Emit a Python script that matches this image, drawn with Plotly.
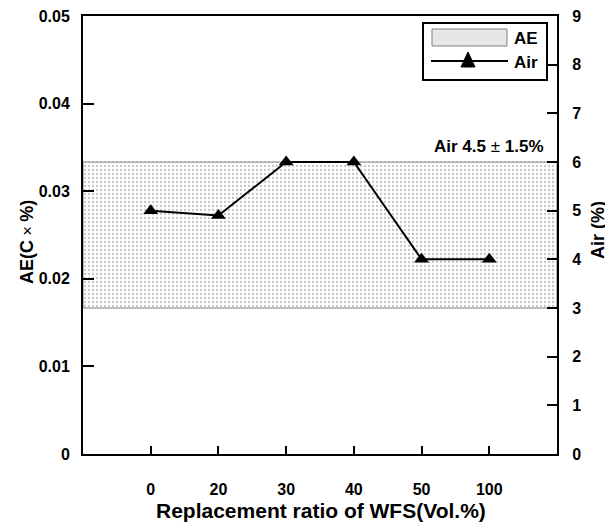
import plotly.graph_objects as go

categories = ["0", "20", "30", "40", "50", "100"]
air_values = [5.0, 4.9, 6.0, 6.0, 4.0, 4.0]
air_low = 3.0
air_high = 6.0
ae_ticks = [0, 0.01, 0.02, 0.03, 0.04, 0.05]
ae_ticktext = ["0", "0.01", "0.02", "0.03", "0.04", "0.05"]
air_ticks = list(range(0, 10))

xpos = list(range(len(categories)))
xmin, xmax = -1, len(categories)

FONT = "Liberation Sans, Arial, sans-serif"

# the page has an 8px body margin, so the figure is drawn 8px in from the corner
OFF = 8
W, H = 613 - OFF, 525 - OFF
L, R, T, B = 83 - OFF, 56, 16 - OFF, 71
PW, PH = W - L - R, H - T - B


def px(x):  # screen pixel -> paper x
    return (x - OFF - L) / PW


def py(y):  # screen pixel -> paper y
    return (H - B - (y - OFF)) / PH


fig = go.Figure()

# empty trace to activate the left axis
fig.add_trace(go.Scatter(x=[None], y=[None], yaxis="y", showlegend=False, hoverinfo="skip"))

fig.add_trace(go.Scatter(
    x=[xmin, xmax, xmax, xmin, xmin],
    y=[air_low, air_low, air_high, air_high, air_low],
    mode="lines", fill="toself", name="AE",
    line=dict(color="#808080", width=1),
    fillcolor="white",
    fillpattern=dict(shape=".", fgcolor="#8a8a8a", bgcolor="white", size=4, solidity=0.25),
    yaxis="y2", hoverinfo="skip", showlegend=False,
))

fig.add_trace(go.Scatter(
    x=xpos, y=air_values, mode="lines+markers", name="Air",
    line=dict(color="black", width=2),
    marker=dict(symbol="triangle-up", size=13, color="black"),
    yaxis="y2", showlegend=False,
))

bold = dict(family=FONT, weight="bold", color="black")

shapes = [
    # legend box
    dict(type="rect", xref="paper", yref="paper", x0=px(423), x1=px(547), y0=py(80), y1=py(23),
         line=dict(color="black", width=2), fillcolor="white", layer="above"),
    # AE swatch
    dict(type="rect", xref="paper", yref="paper", x0=px(432), x1=px(507), y0=py(46), y1=py(29),
         line=dict(color="#808080", width=1), fillcolor="#e6e6e6", layer="above"),
    # Air line
    dict(type="line", xref="paper", yref="paper", x0=px(431), x1=px(508), y0=py(61), y1=py(61),
         line=dict(color="black", width=2), layer="above"),
    # Air triangle
    dict(type="path", xref="paper", yref="paper",
         path=f"M {px(461)} {py(67)} L {px(475)} {py(67)} L {px(468)} {py(52)} Z",
         line=dict(color="black", width=1), fillcolor="black", layer="above"),
]

annotations = [
    dict(text="AE", x=px(512), y=py(38), xref="paper", yref="paper", xanchor="left", yanchor="middle",
         showarrow=False, font=dict(size=17, **bold)),
    dict(text="Air", x=px(512), y=py(62), xref="paper", yref="paper", xanchor="left", yanchor="middle",
         showarrow=False, font=dict(size=17, **bold)),
    dict(text="Air 4.5 <span style='font-weight:normal'>±</span> 1.5%", x=px(546), xref="paper",
         y=air_high, yref="y2", xanchor="right", yanchor="bottom", showarrow=False, yshift=4,
         font=dict(size=17, **bold)),
    dict(text="AE(C<span style='font-weight:normal;font-size:16px'> × </span>%)", x=px(27), xref="paper",
         y=py(242), yref="paper", textangle=-90, showarrow=False, xanchor="center", yanchor="middle",
         font=dict(size=18, **bold)),
    dict(text="Air (%)", x=px(598), xref="paper", y=py(230), yref="paper", textangle=-90,
         showarrow=False, xanchor="center", yanchor="middle", font=dict(size=18, **bold)),
    dict(text="Replacement ratio of WFS(Vol.%)", x=px(321), xref="paper", y=py(510), yref="paper",
         showarrow=False, xanchor="center", yanchor="middle", font=dict(size=21, **bold)),
]

fig.update_layout(
    width=W, height=H,
    margin=dict(l=L, r=R, t=T, b=B, autoexpand=False),
    paper_bgcolor="white", plot_bgcolor="white",
    font=dict(family=FONT, size=16, color="black"),
    showlegend=False,
    xaxis=dict(range=[xmin, xmax], tickvals=xpos, ticktext=categories, automargin=False,
               showgrid=False, zeroline=False, showline=True, linecolor="black", linewidth=2,
               mirror=True, ticks="inside", ticklen=8, tickwidth=2, tickcolor="black",
               tickfont=dict(size=16, **bold), ticklabelstandoff=20, ticklabeloverflow="allow"),
    yaxis=dict(range=[0, 0.05], tickvals=ae_ticks, ticktext=ae_ticktext, automargin=False,
               showgrid=False, zeroline=False, showline=True, linecolor="black", linewidth=2,
               ticks="inside", ticklen=11, tickwidth=2, tickcolor="black",
               tickfont=dict(size=16, **bold), ticklabelstandoff=8, ticklabeloverflow="allow"),
    yaxis2=dict(range=[0, 9], tickvals=air_ticks, overlaying="y", side="right", automargin=False,
                showgrid=False, zeroline=False, showline=True, linecolor="black", linewidth=2,
                ticks="inside", ticklen=10, tickwidth=2, tickcolor="black",
                tickfont=dict(size=16, **bold), ticklabelstandoff=10, ticklabeloverflow="allow"),
    shapes=shapes,
    annotations=annotations,
)

fig.write_html("out.html")
